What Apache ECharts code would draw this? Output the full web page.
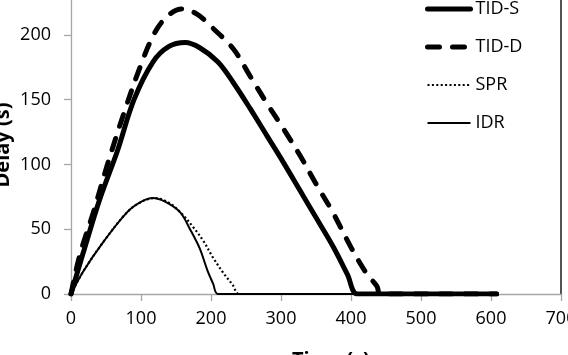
<!DOCTYPE html>
<html>
<head>
<meta charset="utf-8">
<script src="https://cdn.jsdelivr.net/npm/echarts@6/dist/echarts.min.js"></script>
<style>
html,body{margin:0;padding:0;background:#fff;overflow:hidden;width:568px;height:355px;}
#c{position:absolute;left:0;top:-30px;width:568px;height:385px;}
</style>
</head>
<body>
<div id="c"></div>
<script>
// Data
var xTicks = [0, 100, 200, 300, 400, 500, 600, 700];
var yTicks = [0, 50, 100, 150, 200, 250];
var seriesNames = ['TID-S', 'TID-D', 'SPR', 'IDR'];

var tidsT = [0, 17, 41, 66, 90, 117, 140, 163, 184, 210, 232, 256, 280, 304, 327, 350, 374, 395, 409, 450, 500, 550, 608];
var tidsV = [0, 31, 73, 110, 150, 179, 191, 194, 190, 179, 163, 143, 122, 101, 80, 59, 37, 15, 0, 0, 0, 0, 0];

var tiddT = [0, 13, 32, 51, 74, 100, 120, 139, 158, 180, 199, 232, 256, 280, 304, 327, 350, 374, 400, 422, 437, 442, 500, 550, 608];
var tiddV = [0, 31, 63, 98, 137, 177, 202, 215, 220, 216, 207, 189, 168, 147, 127, 107, 85, 63, 36, 16, 6, 0, 0, 0, 0];

var sprT = [0, 17, 46, 80, 100, 120, 141, 158, 174, 189, 203, 218, 231, 240, 300, 400, 500, 608];
var sprV = [0, 17, 40, 63, 71, 74, 70, 62, 52, 41, 28, 16, 7, 0, 0, 0, 0, 0];

var idrT = [0, 17, 46, 80, 100, 117, 135, 156, 170, 184, 195, 203, 210, 300, 400, 500, 608];
var idrV = [0, 17, 40, 63, 71, 74, 71, 63, 50, 35, 18, 8, 0, 0, 0, 0, 0];

function pairs(t, v) { return t.map(function (x, i) { return [x, v[i]]; }); }

var chart = echarts.init(document.getElementById('c'), null, {renderer: 'canvas'});
var FONT = '"Open Sans", "Liberation Sans", sans-serif';
var axisGray = '#a6a6a6';
var OFF = 30; // container is shifted up by this many pixels

var styles = {
  'TID-S': {color: '#000', width: 5, type: 'solid', cap: 'round', join: 'round'},
  'TID-D': {color: '#000', width: 5, type: [12, 13], cap: 'round', join: 'round'},
  'SPR':   {color: '#000', width: 2.2, type: [2, 2.4], cap: 'butt'},
  'IDR':   {color: '#000', width: 2, type: 'solid'}
};

chart.setOption({
  animation: false,
  backgroundColor: '#fff',
  textStyle: {fontFamily: FONT},
  grid: {left: 71, right: 7, top: 0, bottom: 61, containLabel: false, outerBoundsMode: 'none'},
  legend: {
    orient: 'vertical',
    left: 420,
    top: OFF - 5,
    itemWidth: 43,
    itemHeight: 14,
    itemGap: 20,
    itemStyle: {opacity: 0},
    textStyle: {fontFamily: FONT, fontSize: 18, color: '#000', lineHeight: 18},
    data: seriesNames.map(function (n) {
      return {name: n, lineStyle: styles[n], itemStyle: {opacity: 0}};
    })
  },
  xAxis: {
    type: 'value',
    min: xTicks[0],
    max: xTicks[xTicks.length - 1],
    interval: 100,
    axisLine: {lineStyle: {color: axisGray, width: 1.3}},
    axisTick: {show: true, inside: false, length: 7, lineStyle: {color: axisGray, width: 1.3}},
    splitLine: {show: false},
    axisLabel: {color: '#000', fontSize: 18, fontFamily: FONT, margin: 16}
  },
  yAxis: [{
    type: 'value',
    min: yTicks[0],
    max: yTicks[yTicks.length - 1],
    interval: 50,
    axisLine: {show: true, lineStyle: {color: axisGray, width: 1.3}},
    axisTick: {show: true, inside: false, length: 7, lineStyle: {color: axisGray, width: 1.3}},
    splitLine: {show: false},
    axisLabel: {color: '#000', fontSize: 18, fontFamily: FONT, margin: 20}
  }, {
    type: 'value',
    position: 'right',
    min: yTicks[0],
    max: yTicks[yTicks.length - 1],
    interval: 50,
    axisLine: {show: true, lineStyle: {color: '#1a1a1a', width: 1.5}},
    axisTick: {show: false},
    axisLabel: {show: false},
    splitLine: {show: false}
  }],
  graphic: [{
    type: 'text',
    left: 292,
    top: 350 + OFF,
    style: {text: 'Time (s)', font: 'bold 20px ' + FONT, fill: '#000'}
  }, {
    type: 'text',
    x: 3,
    y: 145 + OFF,
    rotation: Math.PI / 2,
    style: {text: 'Delay (s)', font: 'bold 20px ' + FONT, fill: '#000', align: 'center', verticalAlign: 'middle'}
  }],
  series: [
    {name: 'TID-S', data: pairs(tidsT, tidsV)},
    {name: 'TID-D', data: pairs(tiddT, tiddV)},
    {name: 'SPR', data: pairs(sprT, sprV)},
    {name: 'IDR', data: pairs(idrT, idrV)}
  ].map(function (s) {
    return {
      name: s.name,
      type: 'line',
      data: s.data,
      showSymbol: false,
      symbol: 'none',
      smooth: 0.35,
      lineStyle: styles[s.name],
      itemStyle: {color: '#000'}
    };
  })
});
</script>
</body>
</html>
